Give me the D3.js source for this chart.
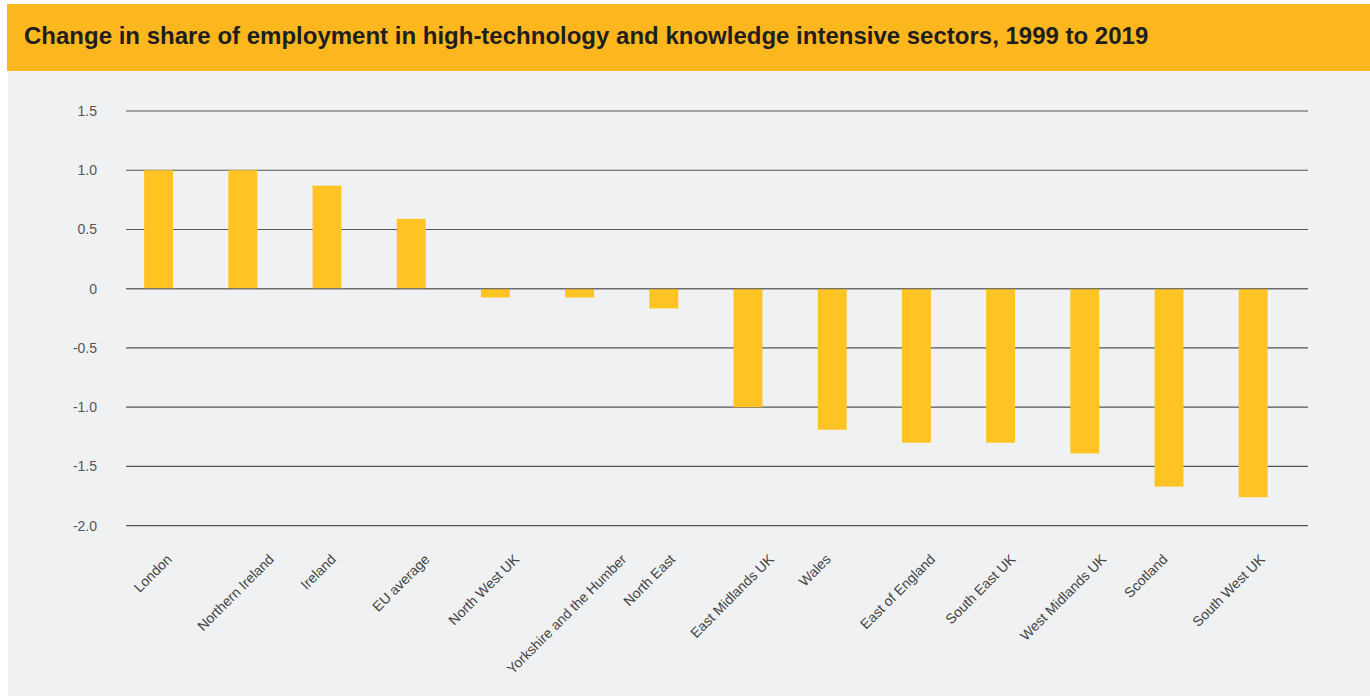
<!DOCTYPE html>
<html>
<head>
<meta charset="utf-8">
<script src="https://cdn.jsdelivr.net/npm/d3@7"></script>
<style>
  body { margin: 0; background: #fff; }
  svg { display: block; }
</style>
</head>
<body>
<div class="container"></div>
<script>
const regions = ["London", "Northern Ireland", "Ireland", "EU average", "North West UK",
  "Yorkshire and the Humber", "North East", "East Midlands UK", "Wales", "East of England",
  "South East UK", "West Midlands UK", "Scotland", "South West UK"];
const change = [1.0, 1.0, 0.87, 0.59, -0.074, -0.074, -0.166, -1.0, -1.19, -1.3, -1.3, -1.39, -1.67, -1.76];
const yTicks = [1.5, 1.0, 0.5, 0, -0.5, -1.0, -1.5, -2.0];
const yTickLabels = ["1.5", "1.0", "0.5", "0", "-0.5", "-1.0", "-1.5", "-2.0"];
const title = "Change in share of employment in high-technology and knowledge intensive sectors, 1999 to 2019";

const width = 1370, height = 696;
const barColor = "#ffc423";

let svg = d3.select(".container").append("svg")
  .attr("width", width)
  .attr("height", height);

// panel + header
svg.append("rect").attr("x", 8).attr("y", 70).attr("width", width - 8).attr("height", height - 70)
  .attr("fill", "#f0f1f3");
svg.append("rect").attr("x", 7).attr("y", 4).attr("width", width - 7).attr("height", 67)
  .attr("fill", "#fdb71e");
svg.append("text")
  .attr("x", 24).attr("y", 43.5)
  .attr("font-family", "Liberation Sans, Arial, sans-serif")
  .attr("font-weight", "bold")
  .attr("font-size", 24)
  .attr("fill", "#1e1e1e")
  .text(title);

const x = d3.scaleBand().domain(regions)
  .range([126, 1308])
  .paddingInner(0.656)
  .paddingOuter(0.347)
  .align(0.31);

const y = d3.scaleLinear().domain([-2, 1.5]).range([525.7, 111]);

// label centres drift a little from the bars in the original
const xLabel = d3.scalePoint().domain(regions).range([152.6, 1228.5]);

let g = svg.append("g");

// gridlines
g.selectAll("line.grid")
  .data(yTicks)
  .enter()
  .append("line")
  .attr("class", "grid")
  .attr("x1", 126).attr("x2", 1308)
  .attr("y1", d => y(d)).attr("y2", d => y(d))
  .attr("stroke", "#555")
  .attr("stroke-width", 1.2);

// y labels
g.selectAll("text.ytick")
  .data(yTicks)
  .enter()
  .append("text")
  .attr("class", "ytick")
  .attr("x", 97)
  .attr("y", d => y(d))
  .attr("dy", "0.35em")
  .attr("text-anchor", "end")
  .attr("font-family", "Liberation Sans, Arial, sans-serif")
  .attr("font-size", 14)
  .attr("fill", "#555")
  .text((d, i) => yTickLabels[i]);

// bars
g.selectAll("rect.bar")
  .data(regions)
  .enter()
  .append("rect")
  .attr("class", "bar")
  .attr("x", d => x(d))
  .attr("width", x.bandwidth())
  .attr("y", (d, i) => y(Math.max(0, change[i])))
  .attr("height", (d, i) => Math.abs(y(change[i]) - y(0)))
  .attr("fill", barColor);

// redraw zero line on top
g.append("line")
  .attr("x1", 126).attr("x2", 1308)
  .attr("y1", y(0)).attr("y2", y(0))
  .attr("stroke", "#666")
  .attr("stroke-width", 1.2);

// rotated category labels, bbox centred on xLabel, top at labelTop
const fs = 14, capH = fs * 0.72, labelTop = 553, k = Math.SQRT1_2;
g.selectAll("text.xlab")
  .data(regions)
  .enter()
  .append("text")
  .attr("class", "xlab")
  .attr("text-anchor", "end")
  .attr("font-family", "Liberation Sans, Arial, sans-serif")
  .attr("font-size", fs)
  .attr("fill", "#444")
  .text(d => d)
  .each(function(d) {
    const L = this.getComputedTextLength();
    const px = xLabel(d) + k * (L + capH) / 2;
    const py = labelTop + k * capH;
    d3.select(this).attr("transform", `translate(${px},${py}) rotate(-45)`);
  });
</script>
</body>
</html>
